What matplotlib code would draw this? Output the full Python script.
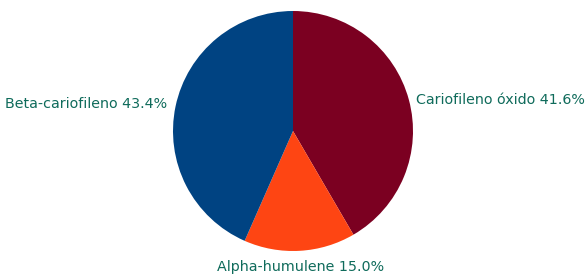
import numpy as np
import matplotlib
matplotlib.use("Agg")
import matplotlib.pyplot as plt

etiquetas = ["Cariofileno óxido", "Alpha-humulene", "Beta-cariofileno"]
porcentajes = [41.6, 15.0, 43.4]
colores = ["#7b0021", "#fe4513", "#004382"]
color_texto = "#0f6b5b"

fig = plt.figure(figsize=(5.87, 2.74), dpi=100)
ax = fig.add_axes([173/587, 23/274, 240/587, 240/274])

wedges, _ = ax.pie(porcentajes, colors=colores, startangle=90, counterclock=False,
                   radius=1.0, wedgeprops=dict(linewidth=0))
ax.set_xlim(-1, 1)
ax.set_ylim(-1, 1)
ax.set_aspect("auto")

for w, lab, p in zip(wedges, etiquetas, porcentajes):
    ang = np.deg2rad((w.theta1 + w.theta2) / 2)
    c, s = np.cos(ang), np.sin(ang)
    x, y = 1.06 * c, 1.06 * s
    if c > 0.3:
        ha, va = "left", "center"
        y = 1.0 * s
    elif c < -0.3:
        ha, va = "right", "center"
        y = 1.1 * s
        x = 1.07 * c
    else:
        ha, va = "center", "top"
        x = 0.06
        y = 1.075 * s
    ax.text(x, y, f"{lab} {p:.1f}%", ha=ha, va=va, color=color_texto, fontsize=10.3)

fig.savefig("out.png", dpi=100)
